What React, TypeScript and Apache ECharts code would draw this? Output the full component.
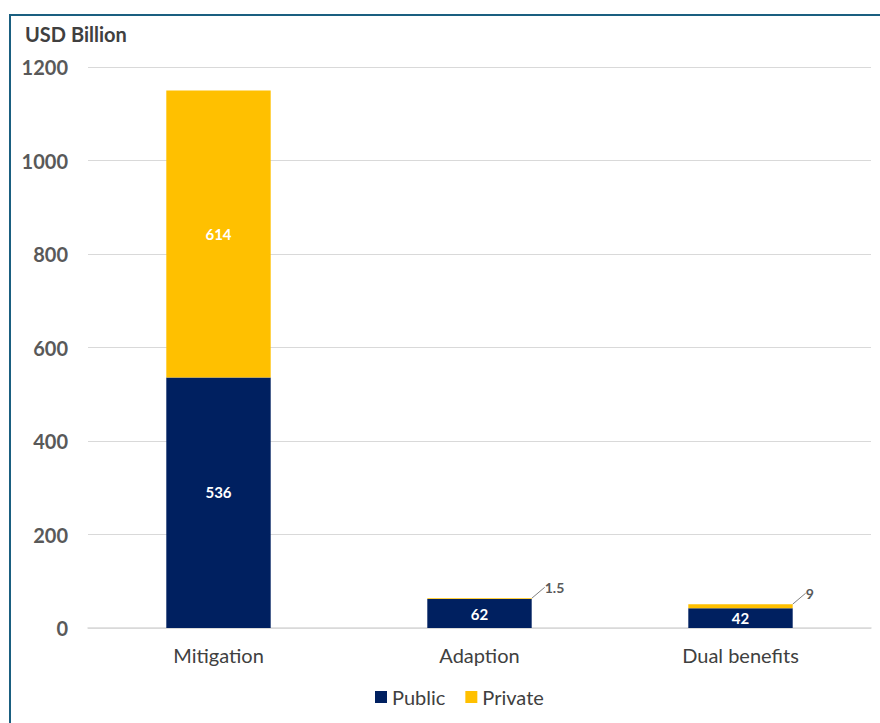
import React, { useEffect, useRef } from "react";
import * as echarts from "echarts";

const categories = ["Mitigation", "Adaption", "Dual benefits"];
const publicValues = [536, 62, 42];
const privateValues = [614, 1.5, 9];
const yTicks = [0, 200, 400, 600, 800, 1000, 1200];

const FONT = "Lato, 'Open Sans', sans-serif";

export default function App() {
  const ref = useRef<HTMLDivElement>(null);
  useEffect(() => {
    if (!ref.current) return;
    const chart = echarts.init(ref.current, null, { renderer: "svg" });
    chart.setOption({
      animation: false,
      textStyle: { fontFamily: FONT },
      graphic: [
        {
          type: "polyline",
          shape: { points: [[10, 740], [10, 15], [900, 15]] },
          style: { stroke: "#1a5f80", lineWidth: 2, fill: "none" },
          silent: true,
        },
        {
          type: "text",
          left: 25,
          top: 24,
          style: { text: "USD Billion", fontFamily: FONT, fontWeight: "bold", fontSize: 20, fill: "#404040" },
        },
      ],
      grid: { left: 88, right: 9, top: 67, bottom: 95, containLabel: false },
      legend: {
        bottom: 11,
        left: 370,
        itemWidth: 12,
        itemHeight: 12,
        itemGap: 20,
        icon: "rect",
        textStyle: { fontFamily: FONT, fontSize: 20, color: "#404040" },
        data: ["Public", "Private"],
      },
      xAxis: {
        type: "category",
        data: categories,
        axisLine: { lineStyle: { color: "#d9d9d9", width: 1.5 } },
        axisTick: { show: false },
        axisLabel: { fontFamily: FONT, fontSize: 20, color: "#404040", margin: 17 },
      },
      yAxis: {
        type: "value",
        min: 0,
        max: yTicks[yTicks.length - 1],
        interval: 200,
        axisLine: { show: false },
        axisTick: { show: false },
        splitLine: { lineStyle: { color: "#d9d9d9", width: 1 } },
        axisLabel: {
          fontFamily: FONT,
          fontSize: 20,
          fontWeight: "bold",
          color: "#595959",
          margin: 20,
          formatter: (v: number) => String(v),
        },
      },
      series: [
        {
          name: "Public",
          type: "bar",
          stack: "total",
          barWidth: "40%",
          data: publicValues.map((v, i) =>
            i === 0 ? { value: v, label: { offset: [0, -11] } } : { value: v }
          ),
          itemStyle: { color: "#002060" },
          label: {
            show: true,
            position: "inside",
            color: "#ffffff",
            fontFamily: FONT,
            fontWeight: "bold",
            fontSize: 15,
          },
        },
        {
          name: "Private",
          type: "bar",
          stack: "total",
          data: privateValues.map((v, i) =>
            i === 0
              ? { value: v, label: { offset: [0, 7] } }
              : {
                  value: v,
                  label: {
                    show: true,
                    position: "insideRight",
                    color: "#595959",
                    fontSize: 14,
                    fontWeight: "bold",
                  },
                  labelLine: { show: true, lineStyle: { color: "#7f7f7f", width: 1 } },
                }
          ),
          itemStyle: { color: "#FFC000" },
          label: {
            show: true,
            position: "inside",
            color: "#ffffff",
            fontFamily: FONT,
            fontWeight: "bold",
            fontSize: 15,
          },
          labelLayout: (params: any) => {
            if (params.dataIndex === 0) return {};
            const r = params.rect;
            return {
              x: r.x + r.width + 13,
              y: r.y - 11,
              align: "left",
              verticalAlign: "middle",
            };
          },
        },
      ],
    });
    return () => chart.dispose();
  }, []);
  return (
    <div
      ref={ref}
      style={{ position: "fixed", left: 0, top: 0, width: 880, height: 723, background: "#fff" }}
    />
  );
}
